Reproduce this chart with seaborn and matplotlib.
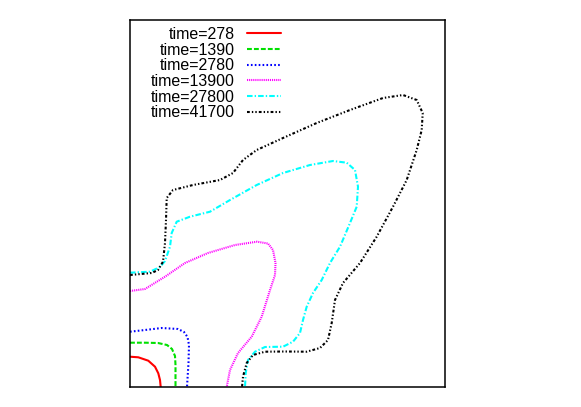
import numpy as np
import pandas as pd
import matplotlib
matplotlib.use("Agg")
import matplotlib.pyplot as plt
import seaborn as sns

labels = ["time=278", "time=1390", "time=2780", "time=13900", "time=27800", "time=41700"]

red_x = [0, 8.3, 18.3, 25, 28.3, 30, 30.7]
red_y = [30.3, 29.7, 26.3, 20.3, 13.7, 7, 0]

green_x = [0, 15, 28, 37, 42, 45, 45.5, 45.5]
green_y = [44.3, 44.3, 44, 42, 38, 31, 22, 0]

blue_x = [0, 15, 31.7, 48, 54, 57.5, 59, 58.5, 57]
blue_y = [55.3, 57, 59, 58, 55, 50, 42, 24, 0]

magenta_x = [0, 15, 35, 55, 78, 105, 127, 138, 143, 145.5, 145, 140, 131.7, 121.7, 108, 100, 96.7]
magenta_y = [96, 98, 110.3, 124, 134, 142, 145.3, 143.5, 137, 124, 112, 97, 70.3, 50.3, 34, 17, 0]

cyan_x = [0, 20, 30, 35, 40, 41.7, 46.7, 60, 80, 100, 126.7, 153, 180, 203, 216.7, 225, 228,
          226.7, 220, 210, 200, 191.7, 183, 176.7, 173, 170, 163, 153, 135, 125, 118, 115.7, 115]
cyan_y = [114.3, 115.3, 120, 126, 140.3, 154, 165.3, 170.3, 175.3, 187, 202, 214, 222, 226, 224.3,
          217, 200.3, 180.3, 164, 140.3, 124, 107, 94, 80.3, 67, 54, 45.3, 40.3, 40, 35.3, 27, 14, 0]

black_x = [0, 21.7, 28, 33, 35, 36, 36.7, 43, 63, 90, 103, 113, 126.7, 153, 186.7, 220, 253, 273,
           286.7, 292.7, 291.7, 286.7, 276.7, 263, 246.7, 230, 213, 205, 201.7, 198, 190, 176.7,
           155, 135, 123, 116.7, 113, 112]
black_y = [112, 114, 117, 125.3, 144, 167, 189, 197, 202, 207, 214, 227, 237, 249, 264, 277, 289,
           292, 287, 274, 257, 237, 207, 180.3, 150.3, 124, 104, 87, 64, 47, 39, 35.3, 35.5, 35.3,
           32, 24, 10.3, 0]

series_x = [red_x, green_x, blue_x, magenta_x, cyan_x, black_x]
series_y = [red_y, green_y, blue_y, magenta_y, cyan_y, black_y]

colors = ["#ff0000", "#00e000", "#0000ff", "#ff00ff", "#00ffff", "#000000"]
styles = ["-",
          (0, (3.5, 1.5)),
          (0, (1.2, 1.6)),
          (0, (0.8, 0.7)),
          (0, (4.0, 1.5, 1.0, 1.5)),
          (0, (2.0, 1.5, 1.0, 1.5, 1.0, 1.5))]

sns.set_theme(style="white")
plt.rcParams["font.family"] = ["Liberation Sans", "DejaVu Sans"]
plt.rcParams["lines.scale_dashes"] = False
plt.rcParams["text.color"] = "black"

fig = plt.figure(figsize=(5.81, 4.07), dpi=100)
ax = fig.add_axes([130 / 581, 1 - 387 / 407, 315 / 581, 367 / 407])

for lab, xs, ys, c, ls in zip(labels, series_x, series_y, colors, styles):
    df = pd.DataFrame({"x": xs, "y": ys})
    sns.lineplot(data=df, x="x", y="y", sort=False, estimator=None, ax=ax,
                 color=c, linestyle=ls, linewidth=1.5, label=lab,
                 solid_joinstyle="round", dash_joinstyle="round")

ax.set_xlim(0, 315)
ax.set_ylim(0, 367)
ax.set_xticks([])
ax.set_yticks([])
ax.set_xlabel("")
ax.set_ylabel("")
for s in ax.spines.values():
    s.set_color("black")
    s.set_linewidth(1.1)
    s.set_visible(True)

leg = ax.legend(loc="upper right", bbox_to_anchor=(281 / 581, 1 - 27 / 407),
                bbox_transform=fig.transFigure, markerfirst=False, frameon=False,
                fontsize=11.5, handlelength=2.15, handletextpad=0.75, labelspacing=0.04,
                borderpad=0, borderaxespad=0)
for t in leg.get_texts():
    t.set_color("black")

fig.savefig("out.png", dpi=100)
